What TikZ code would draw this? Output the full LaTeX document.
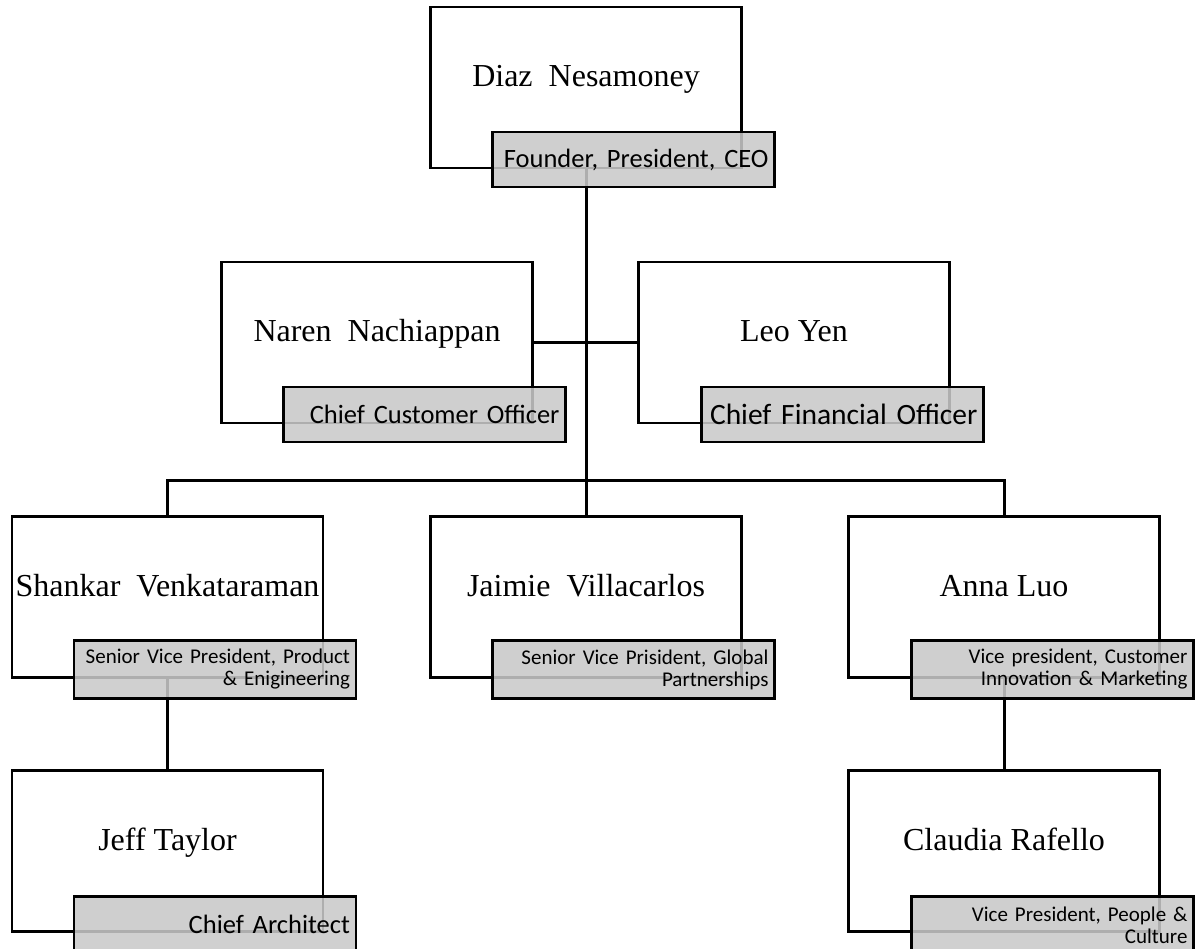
\documentclass[tikz,border=0pt]{standalone}
\usepackage{fontspec}
\setmainfont{Liberation Serif}
\newfontfamily\rolefont{Carlito}
\usetikzlibrary{calc}

\begin{document}
\begin{tikzpicture}[x=1pt,y=1pt,
    person/.style={draw=black,fill=white,line width=2.6pt,outer sep=0pt,minimum width=311pt,minimum height=161pt,font=\fontsize{32}{36}\selectfont,text height=20pt,text depth=22pt},
    role/.style={draw=black,fill=black!21,fill opacity=0.87,text opacity=1,line width=2.8pt,outer sep=0pt,anchor=north west,inner xsep=6pt,inner ysep=0pt,text width=270pt,align=right,minimum height=55pt,font=\rolefont\fontsize{26.5}{30}\selectfont},
    tworole/.style={role,minimum height=58pt,font=\rolefont\fontsize{21}{22}\selectfont},
    link/.style={line width=3pt}]
    \useasboundingbox (0,0) rectangle (1204,-948);
    % people
    \node[person] (diaz) at (586,-87.5) {Diaz~~Nesamoney};
    \node[person] (naren) at (377,-342.5) {Naren~~Nachiappan};
    \node[person] (leo) at (794,-342.5) {Leo Yen};
    \node[person] (shankar) at (167.5,-597) {Shankar~~Venkataraman};
    \node[person] (jaimie) at (586,-597) {Jaimie~~Villacarlos};
    \node[person] (anna) at (1004,-597) {Anna Luo};
    \node[person] (jeff) at (167.5,-851) {Jeff Taylor};
    \node[person] (claudia) at (1004,-851) {Claudia Rafello};
    % reporting lines
    \coordinate (bus) at ($(jaimie.north)+(0,36.5)$);
    \draw[link] (diaz.south) -- (jaimie.north);
    \draw[link] (naren.east) -- (leo.west);
    \draw[link] (shankar.north) |- (bus) -| (anna.north);
    \draw[link] (shankar.south) -- (jeff.north);
    \draw[link] (anna.south) -- (claudia.north);
    % titles
    \node[role] (diazrole) at ($(diaz.north west)+(62,-125)$) {Founder, President, CEO};
    \node[role] (narenrole) at ($(naren.north west)+(62,-125)$) {Chief Customer Officer};
    \node[role,font=\rolefont\fontsize{29.5}{32}\selectfont] (leorole) at ($(leo.north west)+(63,-125)$) {Chief Financial Officer};
    \node[tworole] (shankarrole) at ($(shankar.north west)+(62,-124)$) {Senior Vice President, Product\\\& Enigineering};
    \node[tworole] (jaimierole) at ($(jaimie.north west)+(62,-124)$) {Senior Vice Prisident, Global\\Partnerships};
    \node[tworole] (annarole) at ($(anna.north west)+(63,-124)$) {Vice president, Customer\\Innovation \& Marketing};
    \node[role] (jeffrole) at ($(jeff.north west)+(62,-126)$) {Chief Architect};
    \node[tworole] (claudiarole) at ($(claudia.north west)+(63,-126)$) {Vice President, People \&\\Culture};
\end{tikzpicture}
\end{document}
